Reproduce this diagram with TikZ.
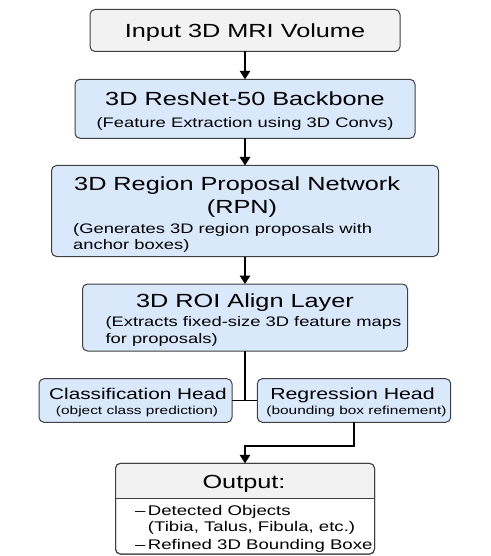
\documentclass[tikz,border=0pt]{standalone}
\usepackage{fontspec}
\setmainfont{Liberation Sans}[FakeStretch=1.33]
\usetikzlibrary{arrows.meta}
\definecolor{boxblue}{HTML}{DAE8FC}
\definecolor{boxgray}{HTML}{F2F2F2}
\definecolor{edge}{HTML}{404040}
\newcommand{\fsz}[1]{\fontsize{#1}{#1}\selectfont}

\begin{document}
\begin{tikzpicture}[x=1pt,y=-1pt,
  box/.style={draw=edge,line width=1pt,rounded corners=5pt,fill=boxblue,inner sep=0pt,outer sep=0pt},
  txt/.style={inner sep=0pt,anchor=base},
  ltxt/.style={inner sep=0pt,anchor=base west},
  link/.style={line width=1.4pt},
  arr/.style={link,-{Triangle[length=8.5pt,width=10.5pt]}}]
\useasboundingbox (0,0) rectangle (490,556);
\node [box,fill=boxgray,minimum width=310pt,minimum height=42pt] (in) at (245,30.5) {};
\node [box,minimum width=340pt,minimum height=59pt] (bb) at (245,108.8) {};
\node [box,minimum width=387pt,minimum height=91pt] (rpn) at (245,211) {};
\node [box,minimum width=325pt,minimum height=67pt] (roi) at (245,317.5) {};
\node [box,minimum width=193pt,minimum height=43.6pt] (cls) at (135.5,400.5) {};
\node [box,minimum width=193.4pt,minimum height=43.6pt] (reg) at (354,400.5) {};
\node [box,fill=white,minimum width=259pt,minimum height=90.7pt] (out) at (245,508.7) {};
\coordinate (hdr) at (0,498.3);
\begin{scope}
  \clip [rounded corners=5pt] (out.north west) rectangle (out.south east);
  \fill [boxgray] (out.north west) rectangle (out.east |- hdr);
\end{scope}
\draw [edge,line width=1pt] (out.west |- hdr) -- (out.east |- hdr);
\draw [edge,line width=1pt,rounded corners=5pt] (out.north west) rectangle (out.south east);

\node [txt] (tin) at (245,37.3) {\fsz{19}Input 3D MRI Volume};
\node [txt] (tbb) at (245,106) {\fsz{19}3D ResNet-50 Backbone};
\node [txt] (sbb) at (245,127.5) {\fsz{13.8}(Feature Extraction using 3D Convs)};
\node [ltxt] (trpn) at (74,190) {\fsz{19}3D Region Proposal Network};
\node [txt] (trpn2) at (242,213) {\fsz{19}(RPN)};
\node [ltxt] (srpn) at (73,233) {\fsz{13.8}(Generates 3D region proposals with};
\node [ltxt] (srpn2) at (73,249) {\fsz{13.8}anchor boxes)};
\node [txt] (troi) at (245,307.3) {\fsz{19}3D ROI Align Layer};
\node [ltxt] (sroi) at (105.3,326.7) {\fsz{13.8}(Extracts fixed-size 3D feature maps};
\node [ltxt] (sroi2) at (105.3,343.3) {\fsz{13.8}for proposals)};
\node [txt] (tcls) at (138,399.3) {\fsz{15.6}Classification Head};
\node [txt] (scls) at (137,414.5) {\fsz{11.6}(object class prediction)};
\node [txt] (treg) at (352.5,399.3) {\fsz{16}Regression Head};
\node [txt] (sreg) at (356.5,414.5) {\fsz{11.6}(bounding box refinement)};
\node [txt] (tout) at (244,488.3) {\fsz{19}Output:};
\node [ltxt] (d1) at (135,515) {\fsz{14}\textendash};
\node [ltxt] (o1) at (147.7,515) {\fsz{14}Detected Objects};
\node [ltxt] (o2) at (147.7,531.7) {\fsz{14}(Tibia, Talus, Fibula, etc.)};
\node [ltxt] (d2) at (135,549.3) {\fsz{14}\textendash};
\node [ltxt] (o3) at (147.7,549.3) {\fsz{14}Refined 3D Bounding Boxe};

\draw [arr] (in) -- (bb);
\draw [arr] (bb) -- (rpn);
\draw [arr] (rpn) -- (roi);
\draw [link] (roi.south) -- (roi.south |- cls.east);
\draw [link] (cls.east) -- (reg.west);
\draw [arr] (reg.south) -- ++(0,23.7) -| (out.north);
\end{tikzpicture}
\end{document}
